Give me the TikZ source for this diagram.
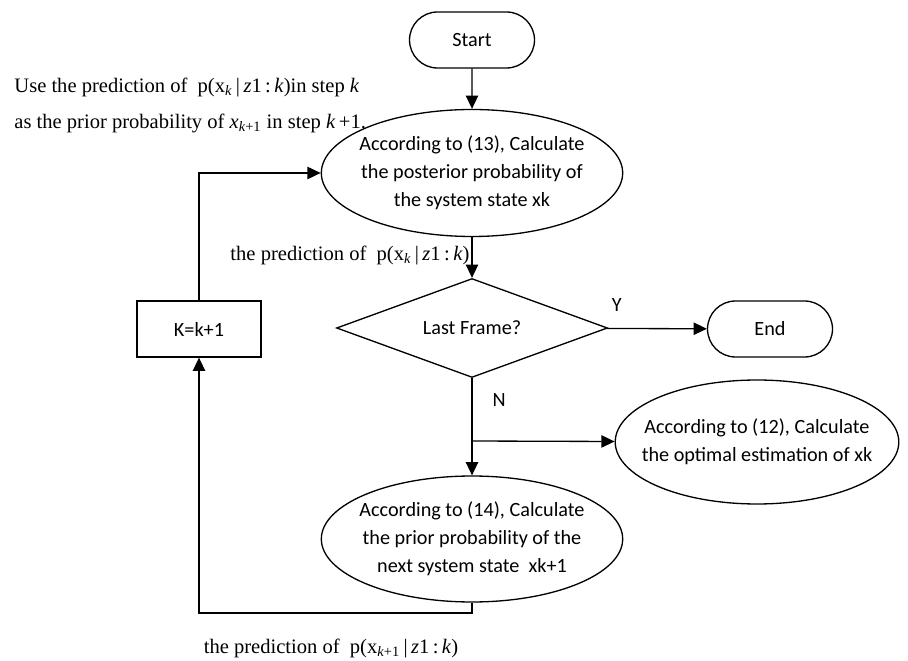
\documentclass[tikz,border=0pt]{standalone}
\usepackage{fontspec}
\setmainfont{Carlito}
\newfontfamily\tnr{Liberation Serif}
\usepackage{tikz}
\usetikzlibrary{arrows.meta,shapes.geometric,shapes.misc,positioning}
\tikzset{
  terminal/.style   = {draw, rounded rectangle, minimum width=2.5cm,
                       minimum height=1.12cm, inner sep=0pt},
  calc ellipse/.style = {draw, ellipse, inner ysep=0pt, align=center},
  decision/.style   = {draw, diamond, aspect=2.7, inner sep=0pt,
                       minimum width=5.42cm, minimum height=1.98cm},
  step box/.style   = {draw, minimum width=2.48cm, minimum height=1.12cm},
  link/.style       = {-{Triangle[length=7.5pt,width=7pt]}},
  note/.style       = {font={\tnr\fontsize{11.7}{20.5}\selectfont}, inner sep=1pt},
}

\begin{document}
\begin{tikzpicture}[x=0.02cm, y=-0.02cm, line width=0.75pt,
    font={\fontsize{11.5}{15.9}\selectfont}]
    \useasboundingbox (0,0) rectangle (908,661);
    % main column
    \node[terminal] (start) at (472,40) {Start};
    \node[calc ellipse, inner xsep=-1.2mm, minimum width=6.02cm, minimum height=2.54cm]
      (post) at (472,173)
      {According to (13), Calculate\\the posterior probability of\\the system state xk};
    \node[decision] (last) at (472,328) {Last Frame?};
    \node[terminal] (end) at (770,329) {End};
    \coordinate (split) at (472,441);
    \node[calc ellipse, inner xsep=-3mm, minimum width=5.5cm, minimum height=2.48cm]
      (optimal) at (757,442)
      {According to (12), Calculate\\the optimal estimation of xk};
    \node[calc ellipse, inner xsep=-1.2mm, minimum width=6.0cm, minimum height=2.52cm]
      (prior) at (472,539)
      {According to (14), Calculate\\the prior probability of the\\next system state~~xk+1};
    \node[step box] (kbox) at (199,329) {K=k+1};
    \coordinate (loop) at (472,613);
    % notes
    \node[note, anchor=west, align=left] (hint) at (12,105)
      {Use the prediction of~~p(x\textsubscript{\textit{k}}\,|\,\textit{z}1\,:\,\textit{k})in step \textit{k}\\
       as the prior probability of \textit{x}\textsubscript{\textit{k}+1} in step \textit{k}\,+1.};
    \node[note] (pred next) at (331,648)
      {the prediction of~~p(x\textsubscript{\textit{k}+1}\,|\,\textit{z}1\,:\,\textit{k})};
    % connectors
    \draw[link] (start) -- (post);
    \draw[link] (post) -- node[note, left, pos=0.45]
      {the prediction of~~p(x\textsubscript{\textit{k}}\,|\,\textit{z}1\,:\,\textit{k})} (last);
    \draw[link] (last) -- node[above=6pt, pos=0.1] {Y} (end);
    \draw (last) -- node[right=8pt, pos=0.35] {N} (split);
    \draw[link] (split) -- (prior);
    \draw[link] (split) -- (optimal);
    \draw[link] (prior) -- (loop) -| (kbox);
    \draw[link] (kbox) |- (post);
\end{tikzpicture}
\end{document}
